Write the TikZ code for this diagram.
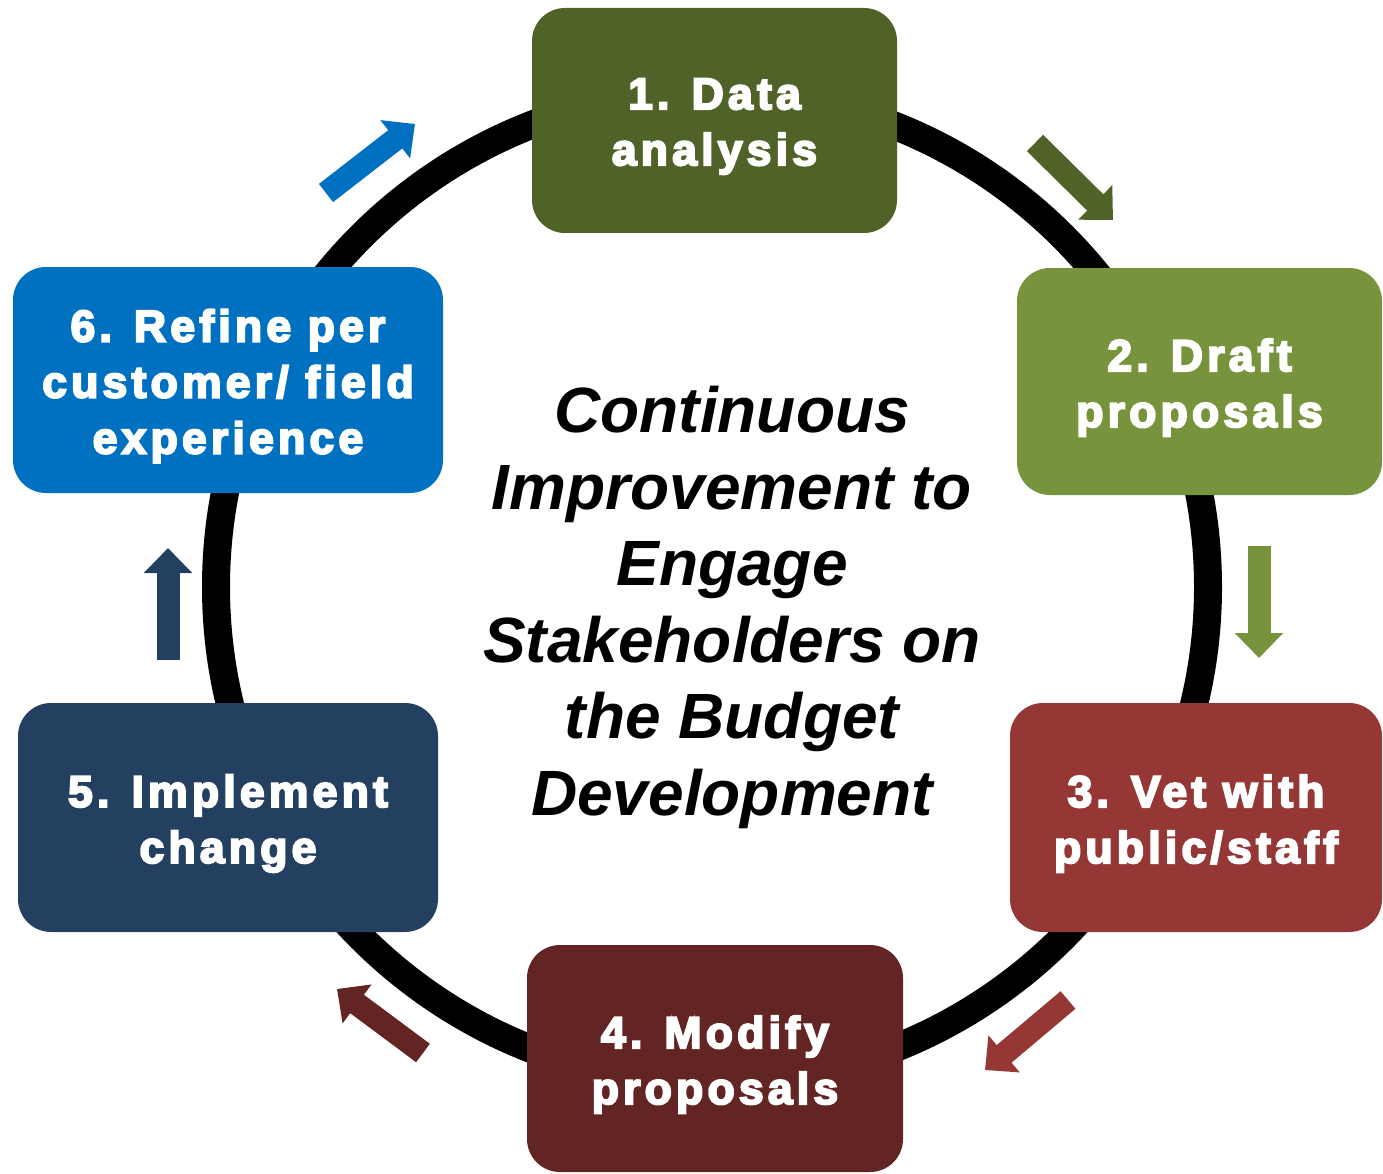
\documentclass[tikz,border=0pt]{standalone}
\usepackage{fontspec}
\setmainfont{Liberation Sans}
\newfontfamily\boxfont[LetterSpace=9.5,FakeBold=4.5]{Liberation Sans Bold}
\usetikzlibrary{arrows.meta}
\definecolor{cA}{HTML}{4F6228}
\definecolor{cB}{HTML}{77933C}
\definecolor{cC}{HTML}{953735}
\definecolor{cD}{HTML}{632523}
\definecolor{cE}{HTML}{244061}
\definecolor{cF}{HTML}{0070C0}
\tikzset{
  stagebox/.style={rectangle, rounded corners=33pt, inner sep=0pt, draw=none},
  stagetext/.style={text=white, align=center, inner sep=0pt,
    font=\boxfont\fontsize{44.5pt}{56pt}\selectfont},
  fatarrow/.style={line width=23pt, -{Triangle[width=47pt,length=25pt]}},
  ring/.style={line width=28pt, black},
}
\begin{document}
\begin{tikzpicture}[x=1pt,y=-1pt]
\useasboundingbox (0,0) rectangle (1383,1174);
% ring
\draw[ring] (712,587) circle[radius=496pt];
% boxes
\node[stagebox, fill=cA, minimum width=365pt, minimum height=225pt] (b1) at (714.5,120.5) {};
\node[stagebox, fill=cB, minimum width=365pt, minimum height=227pt] (b2) at (1199.5,381.5) {};
\node[stagebox, fill=cC, minimum width=372pt, minimum height=229pt] (b3) at (1196,817.5) {};
\node[stagebox, fill=cD, minimum width=376pt, minimum height=227pt] (b4) at (715,1058.5) {};
\node[stagebox, fill=cE, minimum width=420pt, minimum height=229pt] (b5) at (228,817.5) {};
\node[stagebox, fill=cF, minimum width=430pt, minimum height=226pt] (b6) at (228,380) {};
% texts
\node[stagetext] (t1) at ([yshift=-6pt]b1.center) {1. Data\\analysis};
\node[stagetext] (t2) at ([yshift=-6pt]b2.center) {2. Draft\\proposals};
\node[stagetext] (t3) at ([yshift=-6pt]b3.center) {3. Vet with\\public/staff};
\node[stagetext] (t4) at ([yshift=-6pt]b4.center) {4. Modify\\proposals};
\node[stagetext] (t5) at ([yshift=-6pt]b5.center) {5. Implement\\change};
\node[stagetext] (t6) at ([yshift=-6pt]b6.center) {6. Refine per\\customer/ field\\experience};
% centre title
\node[align=center, inner sep=0pt, font=\fontsize{64pt}{76.6pt}\selectfont\bfseries\itshape] (title) at (732,607.5)
  {Continuous\\Improvement to\\Engage\\Stakeholders on\\the Budget\\Development};
% arrows
\coordinate (a1s) at (1035,143); \coordinate (a1e) at (1113,220);
\coordinate (a2s) at (1259,546); \coordinate (a2e) at (1259,658);
\coordinate (a3s) at (1068,1000); \coordinate (a3e) at (985,1070);
\coordinate (a4s) at (423,1053); \coordinate (a4e) at (337,989);
\coordinate (a5s) at (168,660); \coordinate (a5e) at (168,548);
\coordinate (a6s) at (326,193); \coordinate (a6e) at (415,124);
\draw[fatarrow, cA] (a1s) -- (a1e);
\draw[fatarrow, cB] (a2s) -- (a2e);
\draw[fatarrow, cC] (a3s) -- (a3e);
\draw[fatarrow, cD] (a4s) -- (a4e);
\draw[fatarrow, cE] (a5s) -- (a5e);
\draw[fatarrow, cF] (a6s) -- (a6e);
\end{tikzpicture}
\end{document}
